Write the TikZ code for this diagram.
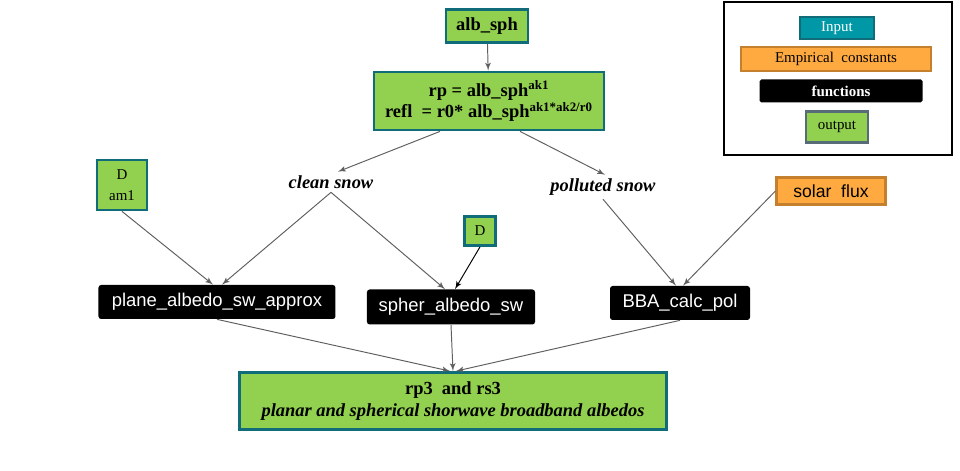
\documentclass[tikz,border=0pt]{standalone}
\usepackage{fontspec}
\setmainfont{Liberation Serif}
\setsansfont{Liberation Sans}
\usepackage{tikz}
\usetikzlibrary{shapes,arrows,positioning,calc}
\definecolor{albgreen}{RGB}{146,208,80}
\definecolor{albteal}{RGB}{16,108,120}
\definecolor{inteal}{RGB}{0,152,166}
\definecolor{constorange}{RGB}{255,170,64}
\definecolor{constedge}{RGB}{196,128,44}
\definecolor{outedge}{RGB}{88,108,120}
\definecolor{arrowgray}{RGB}{95,95,95}
\tikzset{
    databox/.style={rectangle, draw=albteal, line width=1.6pt, fill=albgreen, align=center, inner sep=1pt, font=\fontsize{10.5}{12.5}\selectfont},
    funcbox/.style={rectangle, fill=black, text=white, rounded corners=1.5pt, inner sep=1pt, font=\sffamily\fontsize{10.5}{12.5}\selectfont},
    constbox/.style={rectangle, draw=constedge, line width=1.2pt, fill=constorange, inner sep=1pt},
    snowtext/.style={font=\bfseries\itshape\fontsize{10.5}{12.5}\selectfont, inner sep=2pt},
    keybox/.style={rectangle, inner sep=1pt, font=\fontsize{8.5}{10}\selectfont},
    line/.style={draw, arrowgray, line width=0.55pt, -latex'}
}
\begin{document}
\begin{tikzpicture}
    \useasboundingbox (-9.78,2.02) rectangle (9.42,-7.40);
    % Central formula
    \node [databox, font=\bfseries\fontsize{10.5}{12.5}\selectfont, minimum width=4.6cm, minimum height=1.16cm] (formula) {rp = alb\_sph\textsuperscript{ak1}\\refl\ \ = r0* alb\_sph\textsuperscript{ak1*ak2/r0}};
    \node [databox, font=\bfseries\fontsize{10.5}{12.5}\selectfont, minimum width=1.64cm, minimum height=0.66cm] (albsph) at ([shift={(-0.04cm,1.5cm)}]formula) {alb\_sph};

    % Snow types
    \node [snowtext] (clean) at ([shift={(-3.16cm,-1.62cm)}]formula) {clean snow};
    \node [snowtext] (polluted) at ([shift={(2.28cm,-1.72cm)}]formula) {polluted snow};

    % Inputs
    \node [databox, font=\fontsize{8.5}{12}\selectfont, minimum width=1cm, minimum height=1cm] (dam) at ([shift={(-7.34cm,-1.68cm)}]formula) {D\\am1};
    \node [databox, font=\fontsize{8.5}{10}\selectfont, minimum width=0.62cm, minimum height=0.58cm] (diam) at ([shift={(-0.18cm,-2.6cm)}]formula) {D};
    \node [constbox, font=\sffamily\fontsize{10}{12}\selectfont, minimum width=2.18cm, minimum height=0.54cm] (solar) at ([shift={(6.84cm,-1.8cm)}]formula) {solar\ \ flux};

    % Functions
    \node [funcbox, minimum width=4.74cm, minimum height=0.68cm] (plane) at ([shift={(-5.44cm,-4.02cm)}]formula) {plane\_albedo\_sw\_approx};
    \node [funcbox, minimum width=3.36cm, minimum height=0.7cm] (spher) at ([shift={(-0.76cm,-4.12cm)}]formula) {spher\_albedo\_sw};
    \node [funcbox, minimum width=2.8cm, minimum height=0.68cm] (bba) at ([shift={(3.82cm,-4.04cm)}]formula) {BBA\_calc\_pol};

    % Output
    \node [databox, minimum width=8.54cm, minimum height=1.14cm] (albedos) at ([shift={(-0.72cm,-6.0cm)}]formula) {\textbf{rp3\ \ and rs3}\\\textbf{\textit{planar and spherical shorwave broadband albedos}}};

    % Connections
    \path [line] (albsph) -- (formula);
    \path [line] ([xshift=-0.98cm]formula.south) -- ([xshift=0.14cm]clean.north);
    \path [line] ([xshift=0.62cm]formula.south) -- ([xshift=0.04cm]polluted.north);
    \path [line] (clean.south) -- ([xshift=0.1cm]plane.north);
    \path [line] (dam.south) -- ([xshift=-0.08cm]plane.north);
    \path [line] (clean.south) -- ([xshift=-0.12cm]spher.north);
    \path [line, black] (diam.south) -- ([xshift=0.08cm]spher.north);
    \path [line] (polluted.south) -- ([xshift=-0.08cm]bba.north);
    \path [line] (solar.west) -- ([xshift=0.06cm]bba.north);
    \path [line] (plane.south) -- ([xshift=-0.06cm]albedos.north);
    \path [line] (spher.south) -- (albedos.north);
    \path [line] (bba.south) -- ([xshift=0.06cm]albedos.north);

    % Legend
    \node [draw, line width=1.6pt, minimum width=4.56cm, minimum height=3.06cm] (legend) at ([shift={(6.98cm,0.45cm)}]formula) {};
    \node [keybox, draw=albteal, line width=1.2pt, fill=inteal, text=white, minimum width=1.48cm, minimum height=0.44cm] (keyin) at ([shift={(6.96cm,1.46cm)}]formula) {Input};
    \node [keybox, draw=constedge, line width=1.2pt, fill=constorange, minimum width=3.8cm, minimum height=0.48cm] (keyconst) at ([shift={(6.94cm,0.84cm)}]formula) {Empirical\ \ constants};
    \node [keybox, fill=black, text=white, font=\bfseries\fontsize{8.5}{10}\selectfont, rounded corners=1pt, minimum width=3.26cm, minimum height=0.46cm] (keyfunc) at ([shift={(7.04cm,0.2cm)}]formula) {functions};
    \node [keybox, draw=outedge, line width=1.6pt, fill=albgreen, minimum width=1.24cm, minimum height=0.62cm] (keyout) at ([shift={(6.96cm,-0.52cm)}]formula) {output};
\end{tikzpicture}
\end{document}
